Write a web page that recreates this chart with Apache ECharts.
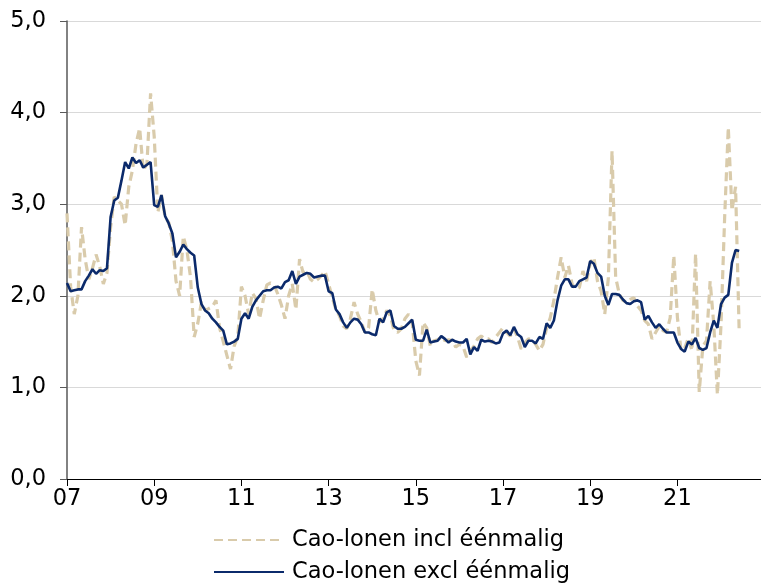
<!DOCTYPE html>
<html>
<head>
<meta charset="utf-8">
<script src="https://cdn.jsdelivr.net/npm/echarts@6/dist/echarts.min.js"></script>
<style>
  html, body { margin: 0; padding: 0; background: #ffffff; }
  #chart { width: 761px; height: 584px; }
</style>
</head>
<body>
<div id="chart"></div>
<script>
// Monthly CAO wage growth (% y/y), January 2007 onwards
const startYear = 2007;
const axisMonths = 192; // axis runs Jan 2007 .. Dec 2022

const seriesNames = ['Cao-lonen incl éénmalig', 'Cao-lonen excl éénmalig'];

const inclEenmalig = [
  2.90, 2.10, 1.80, 2.00, 2.75, 2.40, 2.18, 2.30, 2.45, 2.32, 2.13, 2.25,
  2.75, 3.08, 3.04, 3.00, 2.77, 3.19, 3.37, 3.66, 3.83, 3.37, 3.44, 4.21,
  3.74, 2.91, 3.10, 2.86, 2.80, 2.60, 2.16, 2.00, 2.65, 2.50, 2.20, 1.55,
  1.70, 1.93, 1.84, 1.86, 1.88, 1.95, 1.65, 1.50, 1.35, 1.20, 1.45, 1.55,
  2.10, 2.00, 1.80, 2.03, 1.97, 1.75, 1.95, 2.12, 2.14, 2.12, 2.02, 1.90,
  1.75, 2.00, 2.13, 1.85, 2.40, 2.25, 2.27, 2.18, 2.15, 2.18, 2.22, 2.27,
  2.13, 1.98, 1.85, 1.78, 1.67, 1.64, 1.75, 1.93, 1.80, 1.71, 1.60, 1.65,
  2.07, 1.84, 1.71, 1.75, 1.84, 1.78, 1.62, 1.60, 1.64, 1.75, 1.80, 1.71,
  1.29, 1.13, 1.71, 1.65, 1.45, 1.51, 1.52, 1.55, 1.51, 1.52, 1.51, 1.44,
  1.47, 1.45, 1.33, 1.40, 1.45, 1.53, 1.56, 1.53, 1.53, 1.49, 1.55, 1.60,
  1.65, 1.60, 1.56, 1.64, 1.55, 1.42, 1.49, 1.53, 1.52, 1.47, 1.40, 1.47,
  1.65, 1.76, 1.95, 2.20, 2.42, 2.20, 2.33, 2.13, 2.07, 2.09, 2.27, 2.16,
  2.36, 2.42, 2.16, 2.05, 1.80, 2.20, 3.58, 2.20, 2.02, 1.95, 1.93, 1.96,
  1.98, 1.89, 1.84, 1.73, 1.69, 1.53, 1.60, 1.67, 1.62, 1.60, 1.76, 2.44,
  1.76, 1.40, 1.43, 1.54, 1.40, 2.46, 0.95, 1.45, 1.51, 2.16, 1.69, 0.92,
  1.69, 2.86, 3.84, 2.93, 3.19, 1.60
];

const exclEenmalig = [
  2.14, 2.05, 2.06, 2.07, 2.07, 2.16, 2.22, 2.29, 2.24, 2.28, 2.27, 2.30,
  2.86, 3.04, 3.07, 3.26, 3.46, 3.39, 3.51, 3.45, 3.48, 3.40, 3.43, 3.46,
  2.99, 2.97, 3.10, 2.87, 2.79, 2.68, 2.42, 2.48, 2.56, 2.51, 2.47, 2.44,
  2.09, 1.91, 1.84, 1.81, 1.75, 1.71, 1.66, 1.62, 1.47, 1.48, 1.50, 1.53,
  1.75, 1.81, 1.75, 1.88, 1.95, 2.00, 2.05, 2.06, 2.06, 2.09, 2.10, 2.08,
  2.15, 2.17, 2.27, 2.13, 2.21, 2.23, 2.25, 2.24, 2.20, 2.21, 2.22, 2.22,
  2.05, 2.03, 1.85, 1.80, 1.71, 1.65, 1.71, 1.75, 1.74, 1.69, 1.60, 1.60,
  1.58, 1.57, 1.75, 1.71, 1.82, 1.84, 1.67, 1.64, 1.64, 1.66, 1.70, 1.74,
  1.52, 1.51, 1.51, 1.63, 1.49, 1.50, 1.51, 1.56, 1.53, 1.49, 1.52, 1.50,
  1.49, 1.49, 1.53, 1.36, 1.44, 1.40, 1.52, 1.50, 1.51, 1.50, 1.48, 1.49,
  1.59, 1.62, 1.57, 1.66, 1.58, 1.55, 1.44, 1.51, 1.51, 1.48, 1.55, 1.53,
  1.70, 1.65, 1.73, 1.95, 2.11, 2.18, 2.18, 2.10, 2.10, 2.16, 2.18, 2.20,
  2.38, 2.35, 2.25, 2.21, 2.00, 1.90, 2.02, 2.02, 2.01, 1.96, 1.92, 1.91,
  1.94, 1.95, 1.93, 1.74, 1.78, 1.71, 1.65, 1.69, 1.64, 1.60, 1.60, 1.60,
  1.49, 1.42, 1.39, 1.50, 1.47, 1.54, 1.43, 1.41, 1.43, 1.60, 1.73, 1.65,
  1.91, 1.98, 2.01, 2.36, 2.50, 2.49
];

const yTicks = [0, 1, 2, 3, 4, 5];

// month categories, e.g. "2007-01"
const months = [];
for (let i = 0; i < axisMonths; i++) {
  const y = startYear + Math.floor(i / 12);
  const m = (i % 12) + 1;
  months.push(y + '-' + (m < 10 ? '0' + m : m));
}

const font = 'DejaVu Sans';
const fontSize = 22.5;
const every2y = (idx) => idx % 24 === 0;

// one legend block per series, stacked under the axis
function legendRow(name, top) {
  return {
    orient: 'horizontal',
    left: 213,
    top: top,
    padding: 0,
    itemWidth: 70,
    itemHeight: 14,
    data: [name],
    itemStyle: { color: 'transparent', borderWidth: 0, opacity: 0 },
    textStyle: { fontFamily: font, fontSize: fontSize, color: '#000000', lineHeight: 24, padding: [0, 0, 0, 3] }
  };
}

const chart = echarts.init(document.getElementById('chart'), null, { renderer: 'canvas' });
chart.setOption({
  animation: false,
  backgroundColor: '#ffffff',
  grid: { left: 67, right: 0, top: 21, bottom: 105, containLabel: false },
  xAxis: {
    type: 'category',
    data: months,
    boundaryGap: false,
    axisLine: { show: true, lineStyle: { color: '#000000', width: 1 } },
    axisTick: { show: true, interval: (idx) => every2y(idx), length: 7, lineStyle: { color: '#000000' } },
    axisLabel: {
      interval: (idx) => every2y(idx),
      formatter: (v) => v.slice(2, 4),
      color: '#000000', fontFamily: font, fontSize: fontSize, margin: 9
    },
    splitLine: { show: false }
  },
  yAxis: {
    type: 'value',
    min: yTicks[0],
    max: yTicks[yTicks.length - 1],
    interval: 1,
    axisLine: { show: true, lineStyle: { color: '#595959', width: 1.5 } },
    axisTick: { show: true, length: 7, lineStyle: { color: '#595959' } },
    axisLabel: {
      formatter: (v) => v.toFixed(1).replace('.', ','),
      color: '#000000', fontFamily: font, fontSize: fontSize, margin: 21
    },
    splitLine: { show: true, lineStyle: { color: '#d9d9d9', width: 1 } }
  },
  legend: [legendRow(seriesNames[0], 528), legendRow(seriesNames[1], 560)],
  series: [
    {
      name: seriesNames[0],
      type: 'line',
      data: inclEenmalig,
      symbol: 'none',
      lineStyle: { color: '#d9cbab', width: 3.2, type: [9, 5] },
      itemStyle: { color: '#d9cbab' },
      z: 2
    },
    {
      name: seriesNames[1],
      type: 'line',
      data: exclEenmalig,
      symbol: 'none',
      lineStyle: { color: '#0b2a6b', width: 2.6 },
      itemStyle: { color: '#0b2a6b' },
      z: 3
    }
  ]
});
</script>
</body>
</html>
